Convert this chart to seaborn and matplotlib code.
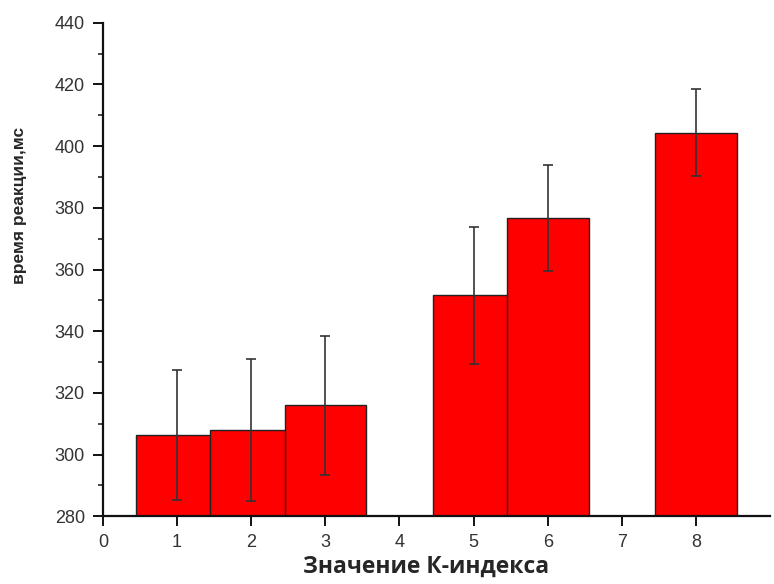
import matplotlib
matplotlib.use("Agg")
import matplotlib.pyplot as plt
import seaborn as sns
import pandas as pd
from matplotlib.ticker import MultipleLocator

# Data
k_index = [1, 2, 3, 5, 6, 8]
reaction_ms = [306.3, 308.0, 316.0, 351.7, 376.6, 404.4]
error_ms = [21.0, 23.0, 22.5, 22.2, 17.2, 14.0]

df = pd.DataFrame({"k": k_index, "rt": reaction_ms, "err": error_ms})

sns.set_style("ticks")
plt.rcParams["font.family"] = ["Liberation Sans", "DejaVu Sans"]

fig = plt.figure(figsize=(7.74, 5.84), dpi=100)
ax = fig.add_axes([0.133, 0.116, 0.862, 0.845])

sns.barplot(data=df, x="k", y="rt", native_scale=True, width=1.1,
            color="#ff0000", saturation=1, edgecolor="#222222",
            linewidth=1.0, errorbar=None, ax=ax)
ax.errorbar(df["k"], df["rt"], yerr=df["err"], fmt="none",
            ecolor="#333333", elinewidth=1.2, capsize=3.5, capthick=1.2)

ax.set_xlim(0, 9)
ax.set_ylim(280, 440)
ax.set_xticks(range(0, 9))
ax.set_xticklabels([str(i) for i in range(0, 9)])
ax.yaxis.set_major_locator(MultipleLocator(20))
ax.yaxis.set_minor_locator(MultipleLocator(10))

sns.despine(ax=ax)
for side in ["left", "bottom"]:
    ax.spines[side].set_linewidth(1.6)
    ax.spines[side].set_color("#111111")
ax.tick_params(axis="both", which="major", direction="out", length=7,
               width=1.4, labelsize=13, colors="#111111", labelcolor="#333333",
               pad=6)
ax.tick_params(axis="y", which="minor", direction="out", length=3.5, width=1.2)

ax.set_ylabel("время реакции,мс", fontsize=12.5, fontweight="bold")
ax.yaxis.set_label_coords(-0.114, 0.629)
ax.set_xlabel("Значение К-индекса", fontsize=16.5, fontweight="bold",
              family=["Open Sans", "DejaVu Sans"])
ax.xaxis.set_label_coords(0.484, -0.078)

fig.savefig("out.png", dpi=100)
